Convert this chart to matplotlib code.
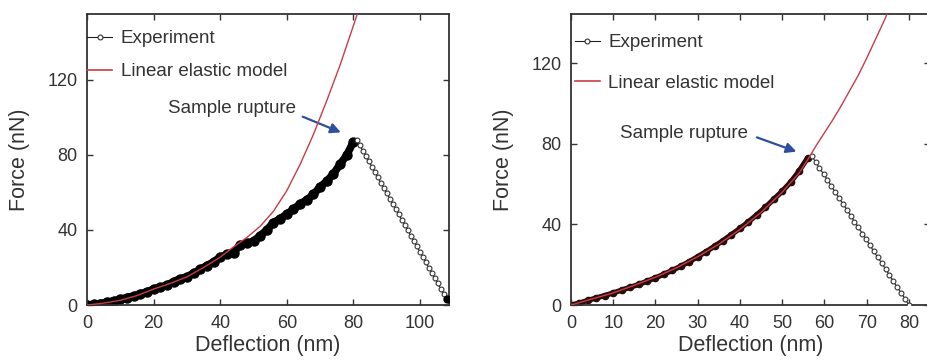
import matplotlib
matplotlib.use('Agg')
import matplotlib.pyplot as plt
from matplotlib.lines import Line2D

plt.rcParams['font.family'] = ['Liberation Sans', 'DejaVu Sans']

# ---- left panel data ----
left_load_x = [0, 2, 4, 6, 8, 10, 12, 14, 16, 18, 20, 22, 24, 26, 28, 30, 32, 34, 36, 38,
               40, 42, 44, 46, 48, 50, 52, 54, 56, 58, 60, 62, 64, 66, 68, 70, 72, 74, 76, 78, 80]
left_load_y = [0, 0.3, 0.8, 1.5, 2.2, 3, 4, 4.8, 6, 7, 8.5, 9.5, 10.5, 12.5, 14, 15, 17, 19, 21, 23,
               25.5, 27, 28, 32, 33, 34, 37, 40, 44, 46, 48.5, 51, 54, 56, 59, 63, 66, 70, 75, 80, 87]
left_unload_x = [81.0, 81.9, 82.8, 83.7, 84.6, 85.5, 86.4, 87.3, 88.2, 89.1, 90.0, 90.9, 91.8,
                 92.7, 93.6, 94.5, 95.4, 96.3, 97.2, 98.1, 99.0, 99.9, 100.8, 101.7, 102.6,
                 103.5, 104.4, 105.3, 106.2, 107.1, 108.0]
left_unload_y = [88.0, 85.2, 82.3, 79.5, 76.7, 73.8, 71.0, 68.2, 65.3, 62.5, 59.7, 56.8, 54.0,
                 51.2, 48.3, 45.5, 42.7, 39.8, 37.0, 34.2, 31.3, 28.5, 25.7, 22.8, 20.0,
                 17.2, 14.3, 11.5, 8.7, 5.8, 3.0]
left_model_x = [0, 5, 10, 15, 20, 25, 30, 35, 40, 44, 48, 52, 56, 60, 64, 68, 72, 76, 80, 83]
left_model_y = [0, 1, 2.5, 5, 8.5, 11.5, 15, 20, 25.5, 31, 36, 42, 50, 61, 75, 91, 109, 128, 149, 165]

# ---- right panel data ----
right_load_x = [0, 2, 4, 6, 8, 10, 12, 14, 16, 18, 20, 22, 24, 26, 28, 30, 32, 34, 36, 38,
                40, 42, 44, 46, 48, 50, 52, 54, 56]
right_load_y = [0, 1, 2.3, 3.5, 4.7, 6, 7.4, 8.8, 10.2, 11.8, 13.5, 15.3, 17.2, 19.3, 21.5, 24,
                26.5, 29.2, 32, 35, 38, 41.3, 44.8, 48.5, 52.5, 56.5, 61, 66.5, 73]
right_unload_x = [57.0, 57.9, 58.8, 59.8, 60.7, 61.6, 62.5, 63.4, 64.4, 65.3, 66.2, 67.1, 68.0,
                  69.0, 69.9, 70.8, 71.7, 72.6, 73.6, 74.5, 75.4, 76.3, 77.2, 78.2, 79.1, 80.0]
right_unload_y = [74.0, 71.0, 68.1, 65.1, 62.2, 59.2, 56.2, 53.3, 50.3, 47.4, 44.4, 41.4, 38.5,
                  35.5, 32.6, 29.6, 26.6, 23.7, 20.7, 17.8, 14.8, 11.8, 8.9, 5.9, 3.0, 0.0]
right_model_x = [0, 5, 10, 15, 20, 25, 30, 35, 40, 45, 50, 54, 56, 58, 60, 62, 64, 66, 68, 70,
                 72, 74, 76]
right_model_y = [0, 3, 6, 9.8, 13.8, 18.5, 24, 30.2, 37.5, 46, 56, 65.5, 72, 79, 85.5, 92, 99,
                 106.5, 114, 122.5, 131.5, 140.5, 150]

red = '#c83c46'
txt = '#333333'
arrow_col = '#2f4f9e'

fig = plt.figure(figsize=(9.28, 3.64), dpi=100)
axL = fig.add_axes([87/928, 1-305/364, (449-87)/928, 291/364])
axR = fig.add_axes([571/928, 1-305/364, (930-571)/928, 291/364])


def draw(ax, lx, ly, ux, uy, mx, my, band_lw, band_ms, load_col):
    ax.plot(lx, ly, color=load_col, lw=band_lw, marker='o', ms=band_ms,
            mfc=load_col, mec=load_col, zorder=2, solid_capstyle='round')
    ax.plot(ux, uy, color='#222222', lw=0.8, marker='o', ms=3.5, mfc='white',
            mec='#333333', mew=0.8, zorder=3)
    ax.plot(mx, my, color=red, lw=1.0, zorder=4)


draw(axL, left_load_x, left_load_y, left_unload_x, left_unload_y,
     left_model_x, left_model_y, 5.5, 6.5, 'black')
axL.plot(left_unload_x[-1], left_unload_y[-1], 'o', color='black', ms=5, zorder=5)
draw(axR, right_load_x, right_load_y, right_unload_x, right_unload_y,
     right_model_x, right_model_y, 3.8, 4.5, '#2a0c0c')

axL.set_xlim(0, 108.7)
axL.set_ylim(0, 155.2)
axL.set_xticks([0, 20, 40, 60, 80, 100])
axR.set_xlim(0, 85)
axR.set_ylim(0, 144.5)
axR.set_xticks([0, 10, 20, 30, 40, 50, 60, 70, 80])

for ax in (axL, axR):
    ax.set_yticks([0, 40, 80, 120])
    ax.tick_params(direction='in', length=4, width=1, top=True, right=True,
                   labelsize=13, labelcolor=txt, pad=7, color='#333333')
    for s in ax.spines.values():
        s.set_linewidth(1.3)
        s.set_color('#333333')
    ax.set_xlabel('Deflection (nm)', fontsize=15.5, color=txt, labelpad=2)
    ax.set_ylabel('Force (nN)', fontsize=15.5, color=txt, labelpad=12)

handles = [Line2D([], [], color='#222222', lw=0.8, marker='o', ms=3.5, mfc='white',
                  mec='#333333', mew=0.8),
           Line2D([], [], color=red, lw=1.2)]
labels = ['Experiment', 'Linear elastic model']
axL.legend(handles, labels, loc='upper left', bbox_to_anchor=(0, 0.945), frameon=False,
           fontsize=13.5, handlelength=1.35, handletextpad=0.45, borderpad=0,
           borderaxespad=0, labelspacing=0.85, numpoints=1, labelcolor=txt)
axR.legend(handles, labels, loc='upper left', bbox_to_anchor=(0.01, 0.93), frameon=False,
           fontsize=13.5, handlelength=1.35, handletextpad=0.45, borderpad=0,
           borderaxespad=0, labelspacing=1.25, numpoints=1, labelcolor=txt)

axL.text(43.5, 105, 'Sample rupture', fontsize=13.5, color=txt, ha='center', va='center')
axL.annotate('', xy=(77, 91.5), xytext=(64, 101),
             arrowprops=dict(arrowstyle='-|>', color=arrow_col, lw=1.6,
                             mutation_scale=15))
axR.text(26.8, 85, 'Sample rupture', fontsize=13.5, color=txt, ha='center', va='center')
axR.annotate('', xy=(54, 75.7), xytext=(43.4, 83.7),
             arrowprops=dict(arrowstyle='-|>', color=arrow_col, lw=1.6,
                             mutation_scale=15))

fig.savefig('out.png', dpi=100)
